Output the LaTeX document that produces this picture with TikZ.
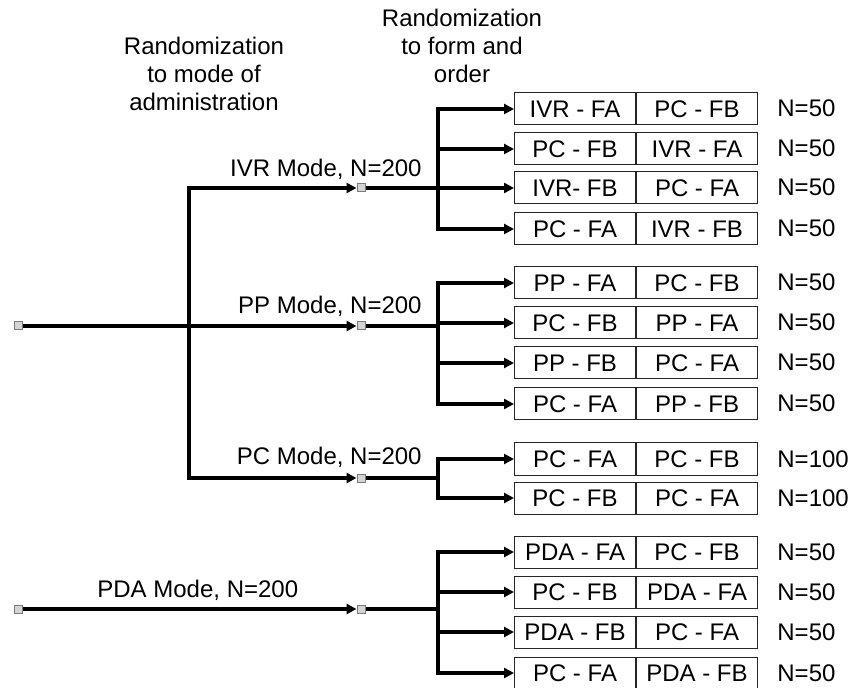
\documentclass[tikz,border=0pt]{standalone}
\usepackage{fontspec}
\setmainfont{Liberation Sans}
\usetikzlibrary{arrows.meta}
\definecolor{sqfill}{HTML}{D4D4D4}
\definecolor{sqedge}{HTML}{7A7A7A}
\def\boxleft{514}
\def\trunkx{438}
\tikzset{
  sq/.style={draw=sqedge, fill=sqfill, line width=0.5pt, minimum size=4pt, inner sep=0pt},
  half/.style={draw=black!85, line width=0.5pt, minimum width=60.5pt, minimum height=16pt, inner sep=0pt, anchor=west},
  conn/.style={line width=2pt},
  arr/.style={conn, -{Triangle[length=5pt,width=5pt]}},
  lbl/.style={inner sep=0pt}
}
% one row of two forms: name, y, first, second, N
\newcommand{\formrow}[5]{
  \node[half] (#1a) at (\boxleft, #2) {#3};
  \node[half] (#1b) at (#1a.east) {#4};
  \node[lbl, anchor=base west] (#1n) at (777, #2 + 8) {#5};
}

\begin{document}
\begin{tikzpicture}[x=0.5pt, y=-0.5pt, every node/.style={font=\fontsize{12}{14}\selectfont}]
    \useasboundingbox (0,0) rectangle (849,688);

    \node[lbl, align=center] (hmode) at (204, 74) {Randomization\\to mode of\\administration};
    \node[lbl, align=center] (hform) at (462, 46) {Randomization\\to form and\\order};

    % sources and mode points
    \node[sq] (src1) at (18, 326) {};
    \node[sq] (src2) at (18, 609) {};
    \node[sq] (ivr) at (361, 188) {};
    \node[sq] (pp) at (361, 326) {};
    \node[sq] (pc) at (361, 478) {};
    \node[sq] (pda) at (361, 609) {};
    \coordinate (trunk) at (189, 326);

    \node[lbl, anchor=base east] (ivrl) at (422, 177) {IVR Mode, N=200};
    \node[lbl, anchor=base east] (ppl) at (422, 314) {PP Mode, N=200};
    \node[lbl, anchor=base east] (pcl) at (422, 465) {PC Mode, N=200};
    \node[lbl, anchor=base west] (pdal) at (97, 597) {PDA Mode, N=200};

    \draw[conn] (src1) -- (trunk);
    \draw[arr] (trunk) |- (ivr);
    \draw[arr] (trunk) -- (pp);
    \draw[arr] (trunk) |- (pc);
    \draw[arr] (src2) -- (pda);

    % form and order
    \formrow{ivr1}{109}{IVR - FA}{PC - FB}{N=50}
    \formrow{ivr2}{149}{PC - FB}{IVR - FA}{N=50}
    \formrow{ivr3}{188}{IVR- FB}{PC - FA}{N=50}
    \formrow{ivr4}{229}{PC - FA}{IVR - FB}{N=50}
    \formrow{pp1}{283}{PP - FA}{PC - FB}{N=50}
    \formrow{pp2}{323}{PC - FB}{PP - FA}{N=50}
    \formrow{pp3}{363}{PP - FB}{PC - FA}{N=50}
    \formrow{pp4}{404}{PC - FA}{PP - FB}{N=50}
    \formrow{pc1}{459}{PC - FA}{PC - FB}{N=100}
    \formrow{pc2}{498}{PC - FB}{PC - FA}{N=100}
    \formrow{pda1}{552}{PDA - FA}{PC - FB}{N=50}
    \formrow{pda2}{592}{PC - FB}{PDA - FA}{N=50}
    \formrow{pda3}{632}{PDA - FB}{PC - FA}{N=50}
    \formrow{pda4}{673}{PC - FA}{PDA - FB}{N=50}

    \foreach \m/\rows in {ivr/{1,2,3,4}, pp/{1,2,3,4}, pc/{1,2}, pda/{1,2,3,4}} {
      \coordinate (\m j) at (\trunkx, 0 |- \m);
      \draw[conn] (\m) -- (\m j);
      \foreach \r in \rows {
        \draw[arr] (\m j) |- (\m\r a.west);
      }
    }
\end{tikzpicture}
\end{document}
